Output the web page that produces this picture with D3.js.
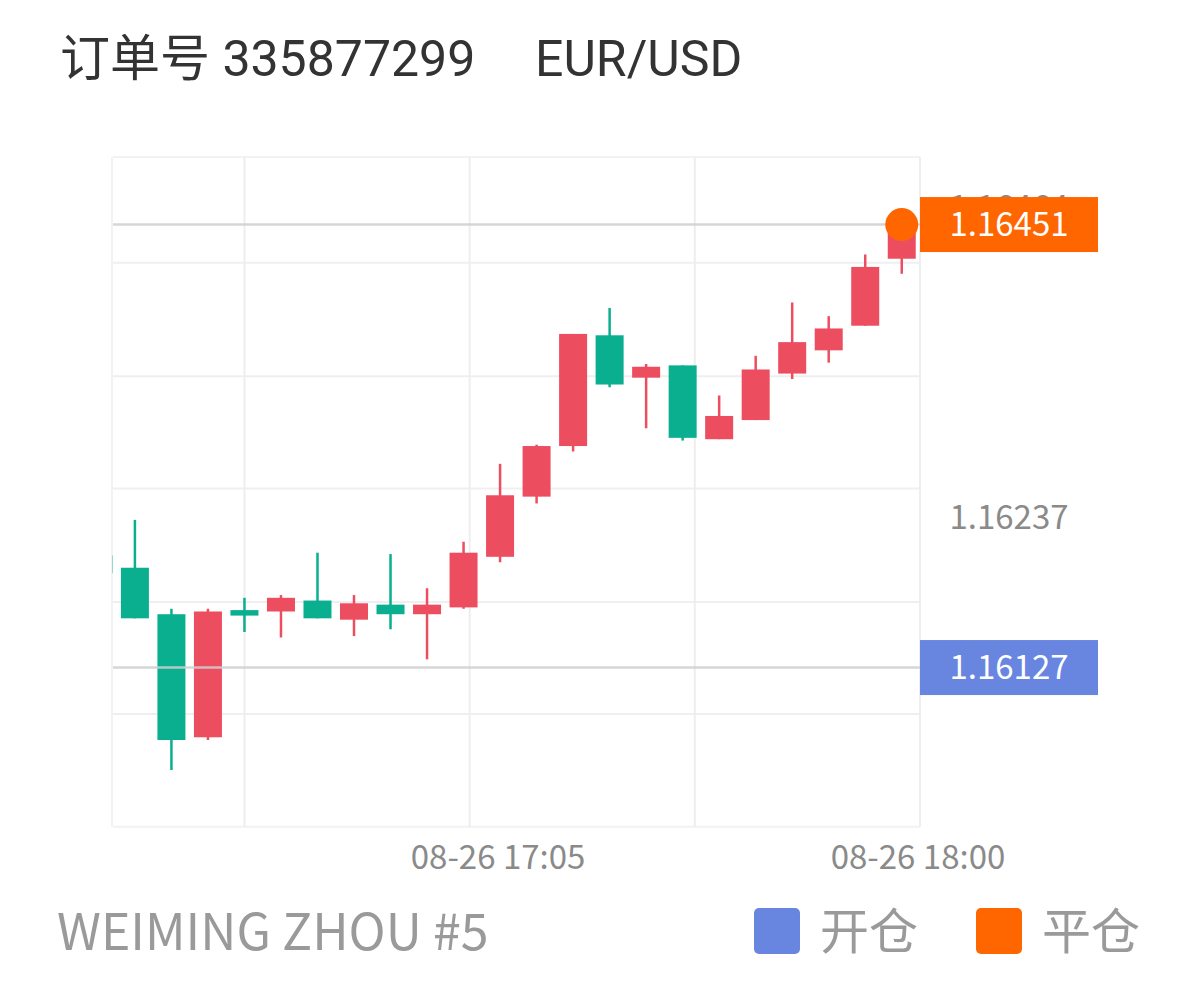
<!DOCTYPE html>
<html><head><meta charset="utf-8">
<script src="https://cdn.jsdelivr.net/npm/d3@7"></script>
<style>body{margin:0;background:#fff}svg{display:block}</style>
</head><body>
<svg id="c" width="1198" height="990"></svg>
<script>
// ---- data ----
const candleTimes = ["16:10","16:15","16:20","16:25","16:30","16:35","16:40","16:45","16:50","16:55","17:00","17:05","17:10","17:15","17:20","17:25","17:30","17:35","17:40","17:45","17:50","17:55","18:00"];
const opens  = [1.16209,1.16200,1.16166,1.16076,1.16169,1.16168,1.16176,1.16162,1.16173,1.16166,1.16171,1.16208,1.16252,1.16289,1.16370,1.16339,1.16348,1.16294,1.16308,1.16342,1.16359,1.16377,1.16426];
const highs  = [1.16209,1.16235,1.16170,1.16170,1.16178,1.16180,1.16211,1.16180,1.16210,1.16185,1.16219,1.16276,1.16290,1.16371,1.16390,1.16349,1.16348,1.16326,1.16355,1.16394,1.16384,1.16429,1.16450];
const lows   = [1.16196,1.16163,1.16052,1.16074,1.16153,1.16149,1.16163,1.16150,1.16155,1.16133,1.16170,1.16204,1.16247,1.16285,1.16332,1.16302,1.16293,1.16294,1.16308,1.16338,1.16350,1.16377,1.16415];
const closes = [1.16196,1.16163,1.16074,1.16168,1.16165,1.16178,1.16163,1.16174,1.16166,1.16173,1.16211,1.16253,1.16289,1.16371,1.16334,1.16347,1.16295,1.16311,1.16345,1.16365,1.16375,1.16420,1.16450];
const gridPrices = [1.16423,1.16340,1.16258,1.16175,1.16093];
const gridTimes = ["16:30:00","17:00:50","17:31:40"];
const xTickTimes = ["17:05:00","18:02:30"];
const xTickLabels = ["08-26 17:05","08-26 18:00"];
const axisPriceLabels = [1.16464, 1.16237];
const openPrice = 1.16127, closePrice = 1.16451;
const closeTime = "18:00";
const title1 = "订单号 335877299", title2 = "EUR/USD";
const footer = "WEIMING ZHOU #5";
const legendItems = ["开仓","平仓"];

// ---- setup ----
const day = "2021-08-26T";
const T = s => new Date(day + (s.length === 5 ? s + ":00" : s));
const svg = d3.select("#c");
const L = 113, R = 920, TOP = 157, BOT = 826.7;
const x = d3.scaleTime().domain([T("16:12:00"), T("18:02:30")]).range([L, R]);
const y = d3.scaleLinear().domain([1.160106, 1.165004]).range([BOT, TOP]);
const UP = "#ec4e5f", DOWN = "#0aaf8f", ORANGE = "#ff6600", BLUE = "#6886e0";
const data = candleTimes.map((t,i)=>({t:T(t), o:opens[i], h:highs[i], l:lows[i], c:closes[i]}));

// title
svg.append("text").attr("x",60).attr("y",76).attr("font-family","Roboto,'Noto Sans CJK SC'").attr("font-size",50).attr("fill","#333").text(title1);
svg.append("text").attr("x",535).attr("y",76).attr("font-family","Roboto,'Noto Sans CJK SC'").attr("font-size",50).attr("fill","#333").text(title2);

// grid
const g = svg.append("g");
g.selectAll(".hg").data(gridPrices).join("line").attr("x1",L).attr("x2",R).attr("y1",d=>y(d)).attr("y2",d=>y(d)).attr("stroke","#efefef").attr("stroke-width",2);
g.append("line").attr("x1",L).attr("x2",R).attr("y1",TOP).attr("y2",TOP).attr("stroke","#f2f2f2").attr("stroke-width",2);
g.append("line").attr("x1",L).attr("x2",R).attr("y1",BOT).attr("y2",BOT).attr("stroke","#f2f2f2").attr("stroke-width",2);
g.append("line").attr("x1",L-1).attr("x2",L-1).attr("y1",TOP).attr("y2",BOT).attr("stroke","#f2f2f2").attr("stroke-width",2);
g.selectAll(".vg").data(gridTimes.map(T).concat([x.domain()[1]])).join("line").attr("x1",d=>x(d)).attr("x2",d=>x(d)).attr("y1",TOP).attr("y2",BOT).attr("stroke","#eeeeee").attr("stroke-width",2);

// candles
svg.append("clipPath").attr("id","clip").append("rect").attr("x",L-1).attr("y",TOP).attr("width",R-L+1).attr("height",BOT-TOP);
const cg = svg.append("g").attr("clip-path","url(#clip)");
const bw = 28;
const cs = cg.selectAll("g.c").data(data).join("g");
cs.append("line").attr("x1",d=>x(d.t)).attr("x2",d=>x(d.t)).attr("y1",d=>y(d.h)).attr("y2",d=>y(d.l))
  .attr("stroke",d=>d.c>=d.o?UP:DOWN).attr("stroke-width",2.5);
cs.append("rect").attr("x",d=>x(d.t)-bw/2).attr("width",bw)
  .attr("y",d=>y(Math.max(d.o,d.c))).attr("height",d=>Math.max(2,Math.abs(y(d.o)-y(d.c))))
  .attr("fill",d=>d.c>=d.o?UP:DOWN);

// open/close lines
[openPrice, closePrice].forEach(p=>{
  svg.append("line").attr("x1",L).attr("x2",R).attr("y1",y(p)).attr("y2",y(p)).attr("stroke","#cfcfcf").attr("stroke-width",2.5).attr("opacity",0.85);
});

// axis price labels
svg.selectAll(".pl").data(axisPriceLabels).join("text").attr("x",1009).attr("y",d=>y(d)).attr("dy","0.36em")
  .attr("text-anchor","middle").attr("font-family","'Noto Sans CJK SC','Noto Sans'").attr("font-size",33).attr("fill","#8a8a8a").text(d=>d.toFixed(5));

// close marker
svg.append("circle").attr("cx",x(T(closeTime))).attr("cy",y(closePrice)).attr("r",16.5).attr("fill",ORANGE);

// price boxes
[[closePrice,ORANGE],[openPrice,BLUE]].forEach(([p,col])=>{
  svg.append("rect").attr("x",R).attr("y",y(p)-27.5).attr("width",178).attr("height",55).attr("fill",col);
  svg.append("text").attr("x",R+89).attr("y",y(p)).attr("dy","0.36em").attr("text-anchor","middle")
    .attr("font-family","'Noto Sans CJK SC','Noto Sans'").attr("font-size",33).attr("fill","#fff").text(p.toFixed(5));
});

// x labels
svg.selectAll(".xl").data(xTickTimes).join("text").attr("x",d=>x(T(d))-2).attr("y",857).attr("dy","0.36em")
  .attr("text-anchor","middle").attr("font-family","'Noto Sans CJK SC','Noto Sans'").attr("font-size",33).attr("fill","#8a8a8a")
  .text((d,i)=>xTickLabels[i]);

// footer
svg.append("text").attr("x",57).attr("y",950).attr("font-family","'Noto Sans CJK SC','Noto Sans'").attr("font-size",50).attr("fill","#9a9a9a").text(footer);

// legend
const lg = svg.append("g");
[[754,BLUE],[976,ORANGE]].forEach(([lx,col],i)=>{
  lg.append("rect").attr("x",lx).attr("y",908).attr("width",46).attr("height",46).attr("rx",5).attr("fill",col);
  lg.append("text").attr("x",lx+66).attr("y",931).attr("dy","0.36em").attr("font-family","'Noto Sans CJK SC'").attr("font-size",49).attr("fill","#9a9a9a").text(legendItems[i]);
});
</script>
</body></html>
